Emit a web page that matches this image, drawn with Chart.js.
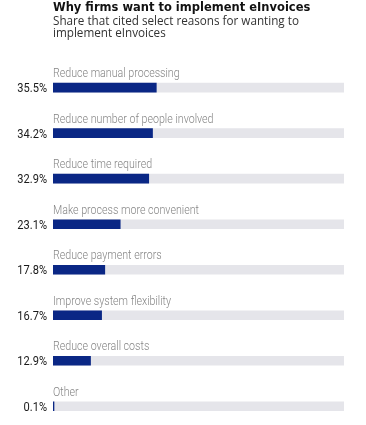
<!DOCTYPE html>
<html>
<head>
<meta charset="utf-8">
<script src="https://cdn.jsdelivr.net/npm/chart.js@4"></script>
<style>
  html, body { margin: 0; padding: 0; background: #fff; overflow: hidden; }
  #wrap { position: relative; width: 366px; height: 430px; }
</style>
</head>
<body>
<div id="wrap"><canvas id="reasons-chart"></canvas></div>
<script>
const reasons = [
    'Reduce manual processing',
    'Reduce number of people involved',
    'Reduce time required',
    'Make process more convenient',
    'Reduce payment errors',
    'Improve system flexibility',
    'Reduce overall costs',
    'Other'
]
const shares = [35.5, 34.2, 32.9, 23.1, 17.8, 16.7, 12.9, 0.1]
const track = reasons.map(() => 100)

const ctx = document.getElementById('reasons-chart')

// draws the reason text above each bar and the % value to the left
const rowLabels = {
    id: 'rowLabels',
    afterDatasetsDraw(chart) {
        const c = chart.ctx
        const yScale = chart.scales.y
        const left = chart.chartArea.left
        c.save()
        reasons.forEach((name, i) => {
            const y = yScale.getPixelForValue(i)
            c.save()
            c.font = '300 13px Roboto'
            c.fillStyle = '#858585'
            c.textAlign = 'left'
            c.textBaseline = 'alphabetic'
            c.translate(left, y - 10.5)
            c.scale(0.82, 1)
            c.fillText(name, 0, 0)
            c.restore()

            c.save()
            c.font = '400 13.5px Roboto'
            c.fillStyle = '#1a1a1a'
            c.textAlign = 'right'
            c.textBaseline = 'alphabetic'
            c.translate(left - 6, y + 4.5)
            c.scale(0.82, 1)
            c.fillText(shares[i].toFixed(1) + '%', 0, 0)
            c.restore()
        })
        c.restore()
    }
}

new Chart(ctx, {
    type: 'bar',
    data: {
        labels: reasons,
        datasets: [
            {
                data: shares,
                backgroundColor: '#0a2785',
                barThickness: 9,
                minBarLength: 1,
                grouped: false
            },
            {
                data: track,
                backgroundColor: '#e5e5ea',
                barThickness: 9,
                grouped: false
            }
        ]
    },
    options: {
        indexAxis: 'y',
        responsive: true,
        maintainAspectRatio: false,
        animation: false,
        layout: { padding: { left: 53, right: 22, top: 0, bottom: 1 } },
        plugins: {
            legend: { display: false },
            tooltip: { enabled: false },
            title: {
                display: true,
                text: 'Why firms want to implement eInvoices',
                align: 'start',
                color: '#111',
                font: { family: 'DejaVu Sans', size: 11.5, weight: 'bold', lineHeight: 1.13 },
                padding: { top: 2, bottom: 0 }
            },
            subtitle: {
                display: true,
                text: ['Share that cited select reasons for wanting to', 'implement eInvoices'],
                align: 'start',
                color: '#333',
                font: { family: 'Open Sans', size: 11.7, lineHeight: 0.98 },
                padding: { top: 1, bottom: 26 }
            }
        },
        scales: {
            x: { display: false, min: 0, max: 100 },
            y: { display: false, grid: { display: false } }
        }
    },
    plugins: [rowLabels]
})
</script>
</body>
</html>
